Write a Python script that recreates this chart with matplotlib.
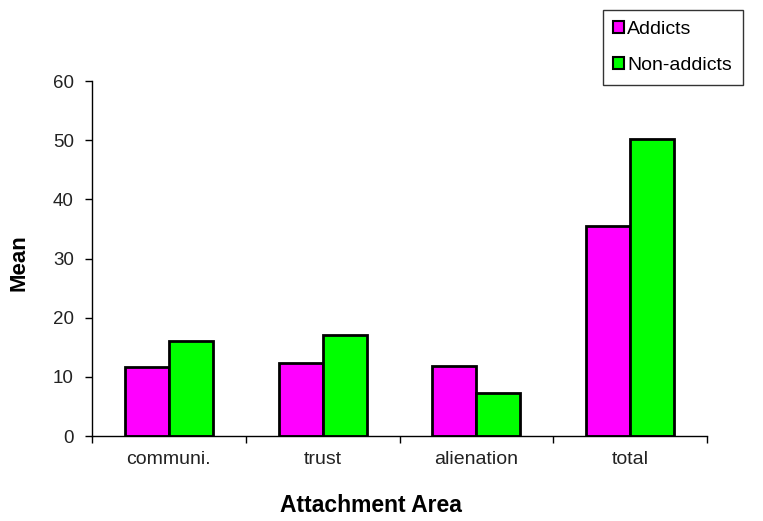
import numpy as np
import matplotlib.pyplot as plt
from matplotlib.patches import Patch

plt.rcParams['font.family'] = ['Liberation Sans', 'DejaVu Sans']

# mean attachment scores per area
areas = ['communi.', 'trust', 'alienation', 'total']
addicts = [11.7, 12.3, 11.9, 35.5]
non_addicts = [16.1, 17.1, 7.2, 50.2]
y_ticks = [0, 10, 20, 30, 40, 50, 60]

fig = plt.figure(figsize=(7.63, 5.21), dpi=100)
ax = fig.add_axes([0.1206, 0.1631, 0.806, 0.6814])

x = np.arange(len(areas))
w = 0.286
ax.bar(x - w / 2, addicts, w, color='#ff00ff', edgecolor='black', linewidth=2)
ax.bar(x + w / 2, non_addicts, w, color='#00ff00', edgecolor='black', linewidth=2)

ax.set_xlim(-0.5, len(areas) - 0.5)
ax.set_ylim(0, 60)
ax.set_yticks(y_ticks)
ax.set_xticks(x)
ax.set_xticklabels(areas, fontsize=14, color='#222222')
ax.set_xticks(np.arange(len(areas) + 1) - 0.5, minor=True)
ax.tick_params(axis='x', which='major', length=0, pad=11)
ax.tick_params(axis='x', which='minor', length=5, width=1, direction='out')
ax.tick_params(axis='y', length=5, width=1, direction='out', labelsize=13.5,
               labelcolor='#222222', pad=8)

for side in ['top', 'right']:
    ax.spines[side].set_visible(False)
for side in ['left', 'bottom']:
    ax.spines[side].set_linewidth(1)

fig.text(0.0255, 0.495, 'Mean', fontsize=16, fontweight='bold',
         rotation=90, ha='center', va='center')
fig.text(0.486, 0.008, 'Attachment Area', fontsize=16.5, fontweight='bold',
         ha='center', va='bottom')

handles = [Patch(facecolor='#ff00ff', edgecolor='black', linewidth=1.5),
           Patch(facecolor='#00ff00', edgecolor='black', linewidth=1.5)]
leg = fig.legend(handles, ['Addicts', 'Non-addicts'], loc='upper left',
                 bbox_to_anchor=(0.790, 0.981), fontsize=14, frameon=True,
                 fancybox=False, handlelength=0.55, handleheight=0.55,
                 handletextpad=0.15, labelspacing=1.0, borderpad=0.55,
                 borderaxespad=0)
leg.get_frame().set_edgecolor('black')
leg.get_frame().set_linewidth(1)

fig.savefig('out.png', dpi=100)
